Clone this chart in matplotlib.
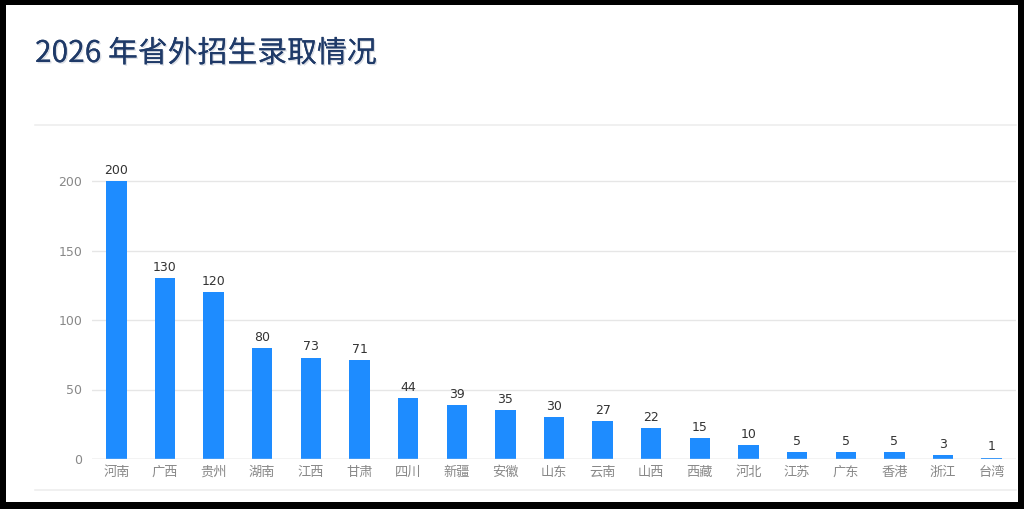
import matplotlib
matplotlib.use("Agg")
import matplotlib.pyplot as plt
from matplotlib.lines import Line2D
from matplotlib.patches import Rectangle
import matplotlib.patheffects as pe

plt.rcParams['font.family'] = ['Noto Sans CJK SC', 'DejaVu Sans']

provinces = ["河南", "广西", "贵州", "湖南", "江西", "甘肃", "四川", "新疆", "安徽", "山东",
             "云南", "山西", "西藏", "河北", "江苏", "广东", "香港", "浙江", "台湾"]
counts = [200, 130, 120, 80, 73, 71, 44, 39, 35, 30, 27, 22, 15, 10, 5, 5, 5, 3, 1]
yticks = [0, 50, 100, 150, 200]
title = "2026 年省外招生录取情况"

W, H = 1024, 509
fig = plt.figure(figsize=(W / 100, H / 100), dpi=100)
fig.patch.set_facecolor("black")

# white card inside black frame
fig.add_artist(Rectangle((6 / W, 1 - 502 / H), (1018 - 6) / W, (502 - 5) / H,
                         transform=fig.transFigure, facecolor="white", edgecolor="none", zorder=0))

# faint panel lines
for yy in (125, 490):
    fig.add_artist(Line2D([35 / W, 1016 / W], [1 - yy / H, 1 - yy / H],
                          transform=fig.transFigure, color="#eeeeee", lw=1.2, zorder=1))

fig.text(35 / W, 1 - 62 / H, title, fontsize=21.5, color="#1f3a68", ha="left", va="baseline",
         fontweight="medium",
         path_effects=[pe.withSimplePatchShadow(offset=(1, -1), shadow_rgbFace="#9aa3b5", alpha=0.35),
                       pe.Normal()])

y0, y200 = 459, 181
ppu = (y0 - y200) / 200
ytop = 215
ax = fig.add_axes([92 / W, 1 - y0 / H, (1016 - 92) / W, (ytop * ppu) / H])
ax.set_facecolor("none")

x = list(range(len(provinces)))
bars = ax.bar(x, counts, width=0.42, color="#1e8cff", zorder=3)
for xi, v in zip(x, counts):
    ax.annotate(str(v), (xi, v), xytext=(0, 3), textcoords="offset points",
                ha="center", va="bottom", fontsize=9, color="#333333", family="DejaVu Sans",
                fontweight="medium")

ax.set_xlim(-0.5, len(provinces) - 0.5)
ax.set_ylim(0, ytop)
ax.set_yticks(yticks)
ax.set_yticklabels([str(t) for t in yticks], family="DejaVu Sans")
ax.set_xticks(x)
ax.set_xticklabels(provinces)
ax.tick_params(axis="y", length=0, labelsize=9, labelcolor="#888888", pad=7)
ax.tick_params(axis="x", length=0, labelsize=9.5, labelcolor="#888888", pad=5)
ax.grid(axis="y", color="#e6e6e6", lw=1, zorder=0)
for s in ax.spines.values():
    s.set_visible(False)
ax.axhline(0, color="#d9d9d9", lw=1, zorder=4)

fig.savefig("out.png", dpi=100, facecolor=fig.get_facecolor())
